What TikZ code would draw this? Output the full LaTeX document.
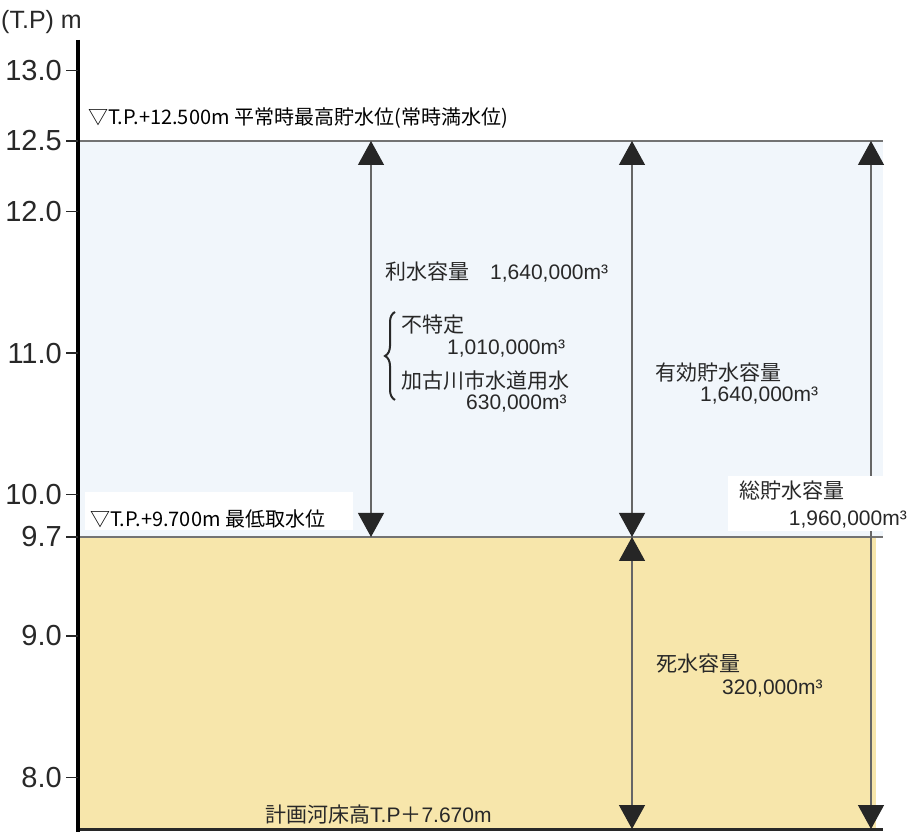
\documentclass[tikz,border=0pt]{standalone}
\usepackage{fontspec}
\setmainfont{Liberation Sans}
\newfontfamily\jp{Noto Sans CJK JP}
\usetikzlibrary{arrows.meta,decorations.pathreplacing}
\definecolor{pale}{RGB}{241,246,251}
\definecolor{sand}{RGB}{247,230,171}
\definecolor{ink}{RGB}{40,40,40}
\begin{document}
\begin{tikzpicture}[x=1pt, y=141.43pt,
  tick/.style = {anchor=east, inner sep=0pt, text=ink, font=\fontsize{29}{31}\selectfont},
  txt/.style = {anchor=west, inner sep=0pt, text=ink, font=\fontsize{21}{24}\selectfont},
  wl/.style = {anchor=west, inner sep=0pt, text=black, font=\jp\fontsize{20}{22}\selectfont},
  span/.style = {draw=black!60, line width=1.2pt,
    {Triangle[width=26pt,length=24pt,color=black!85]}-{Triangle[width=26pt,length=24pt,color=black!85]}}]
\useasboundingbox (0,7.614) rectangle (911,13.497);
% water and dead storage
\fill[pale] (78,9.7) rectangle (883,12.5);
\fill[sand] (78,7.635) rectangle (876,9.7);
% levels
\coordinate (top) at (78,13.214);
\coordinate (bot) at (78,7.614);
\coordinate (hwl) at (78,12.5);
\coordinate (hwlE) at (883,12.5);
\coordinate (lwl) at (78,9.7);
\coordinate (lwlE) at (883,9.7);
\coordinate (bed) at (78,7.635);
\coordinate (bedE) at (883,7.635);
\draw[black!55, line width=1.5pt] (hwl) -- (hwlE);
\draw[black!55, line width=1.5pt] (lwl) -- (lwlE);
\draw[ink, line width=3pt] (bed) -- (bedE);
\draw[black, line width=4pt] (top) -- (bot);
% axis
\node[anchor=west, inner sep=0pt, text=ink, font=\fontsize{25}{27}\selectfont] (unit) at (1,13.341) {(T.P)\hspace{7pt}m};
\foreach \v [count=\i] in {13.0,12.5,12.0,11.0,10.0,9.7,9.0,8.0} {
  \coordinate (m\i) at (78,\v);
  \node[tick] (tk\i) at (62,\v) {\v};
  \draw[ink, line width=1.5pt] (m\i) -- ++(-12,0);
}
% capacities
\coordinate (a1t) at (371,12.5);
\coordinate (a1b) at (371,9.7);
\coordinate (a2t) at (632,12.5);
\coordinate (a2b) at (632,9.7);
\coordinate (a3b) at (632,7.635);
\coordinate (a4t) at (871,12.5);
\coordinate (a4b) at (871,7.635);
\draw[span] (a1t) -- (a1b);
\draw[span] (a2t) -- (a2b);
\draw[span] (a2b) -- (a3b);
\draw[span] (a4t) -- (a4b);
\coordinate (brB) at (395,10.669);
\coordinate (brT) at (395,11.291);
\draw[ink, line width=2pt, decorate, decoration={brace, amplitude=10pt, aspect=0.5}] (brB) -- (brT);
% labels
\fill[white] (85,9.75) rectangle (353,10.018);
\fill[white] (728,9.742) rectangle (911,10.131);
\node[wl] (hwlT) at (88,12.663) {▽T.P.+12.500m 平常時最高貯水位(常時満水位)};
\node[wl] (lwlT) at (90,9.827) {▽T.P.+9.700m 最低取水位};
\node[txt] (riT) at (385,11.574) {{\jp 利水容量　}1,640,000m³};
\node[txt] (fuT) at (401,11.199) {\jp 不特定};
\node[txt] (fuV) at (447,11.036) {1,010,000m³};
\node[txt] (kaT) at (401,10.803) {\jp 加古川市水道用水};
\node[txt] (kaV) at (466,10.647) {630,000m³};
\node[txt] (yuT) at (655,10.860) {\jp 有効貯水容量};
\node[txt] (yuV) at (700,10.697) {1,640,000m³};
\node[txt] (soT) at (739,10.032) {\jp 総貯水容量};
\node[txt, anchor=east] (soV) at (907,9.827) {1,960,000m³};
\node[txt] (shT) at (656,8.802) {\jp 死水容量};
\node[txt] (shV) at (722,8.632) {320,000m³};
\node[txt] (bedT) at (265,7.741) {{\jp 計画河床高}T.P{\jp ＋}7.670m};
\end{tikzpicture}
\end{document}
